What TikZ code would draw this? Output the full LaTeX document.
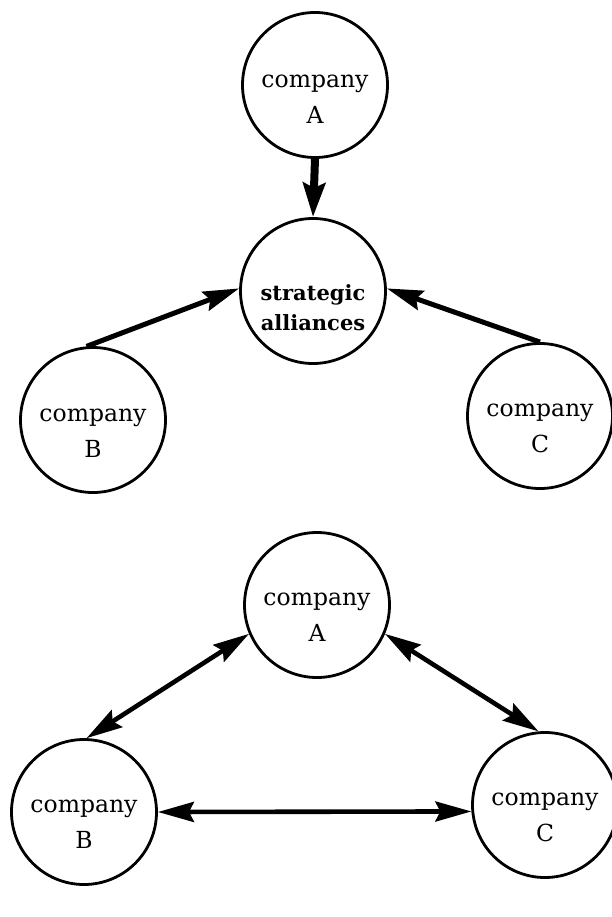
\documentclass[tikz,border=0pt]{standalone}
\usepackage{fontspec}
\setmainfont{DejaVu Serif}
\usetikzlibrary{arrows.meta}
\begin{document}
\begin{tikzpicture}[x=1pt,y=-1pt,
  firm/.style={circle, draw, line width=2.8pt, minimum size=145pt, inner sep=0pt},
  caption/.style={align=center, inner sep=0pt, font=\fontsize{23.5}{36}\selectfont},
  boldcaption/.style={align=center, inner sep=0pt, font=\bfseries\fontsize{21}{30}\selectfont},
  link/.style={line width=5pt, line cap=butt, -{Stealth[length=36pt,width=20pt,inset=5pt]}},
  biline/.style={line width=4.6pt, line cap=butt,
    {Stealth[length=36pt,width=20pt,inset=5pt]}-{Stealth[length=36pt,width=20pt,inset=5pt]}},
]
\fill[white] (0,0) rectangle (612,917);
\useasboundingbox (0,0) rectangle (612,917);

% ---- upper figure: each company feeds the alliance ----
\node[firm] (a1) at (315,85) {};
\node[firm] (s1) at (313,291) {};
\node[firm] (b1) at (93,420) {};
\node[firm] (c1) at (540,416) {};

\node[caption] (ta1) at (315,99) {company\\A};
\node[boldcaption] (ts1) at (313,308) {strategic\\alliances};
\node[caption] (tb1) at (93,433) {company\\B};
\node[caption] (tc1) at (540,428) {company\\C};

\draw[link, line width=8pt, -{Stealth[length=34pt,width=22pt,inset=5pt]}] (a1.south) -- (s1.north);
\draw[link] (b1.95) -- (s1.178);
\draw[link] (c1.90) -- (s1.2);

% ---- lower figure: companies linked to one another ----
\node[firm] (a2) at (317,605) {};
\node[firm] (b2) at (84,812) {};
\node[firm] (c2) at (545,805) {};

\node[caption] (ta2) at (317,617) {company\\A};
\node[caption] (tb2) at (84,824) {company\\B};
\node[caption] (tc2) at (545,817) {company\\C};

\draw[biline] (a2.203) -- (b2.88);
\draw[biline] (a2.337) -- (c2.95);
\draw[biline] (b2.east) -- (c2.185);
\end{tikzpicture}
\end{document}
